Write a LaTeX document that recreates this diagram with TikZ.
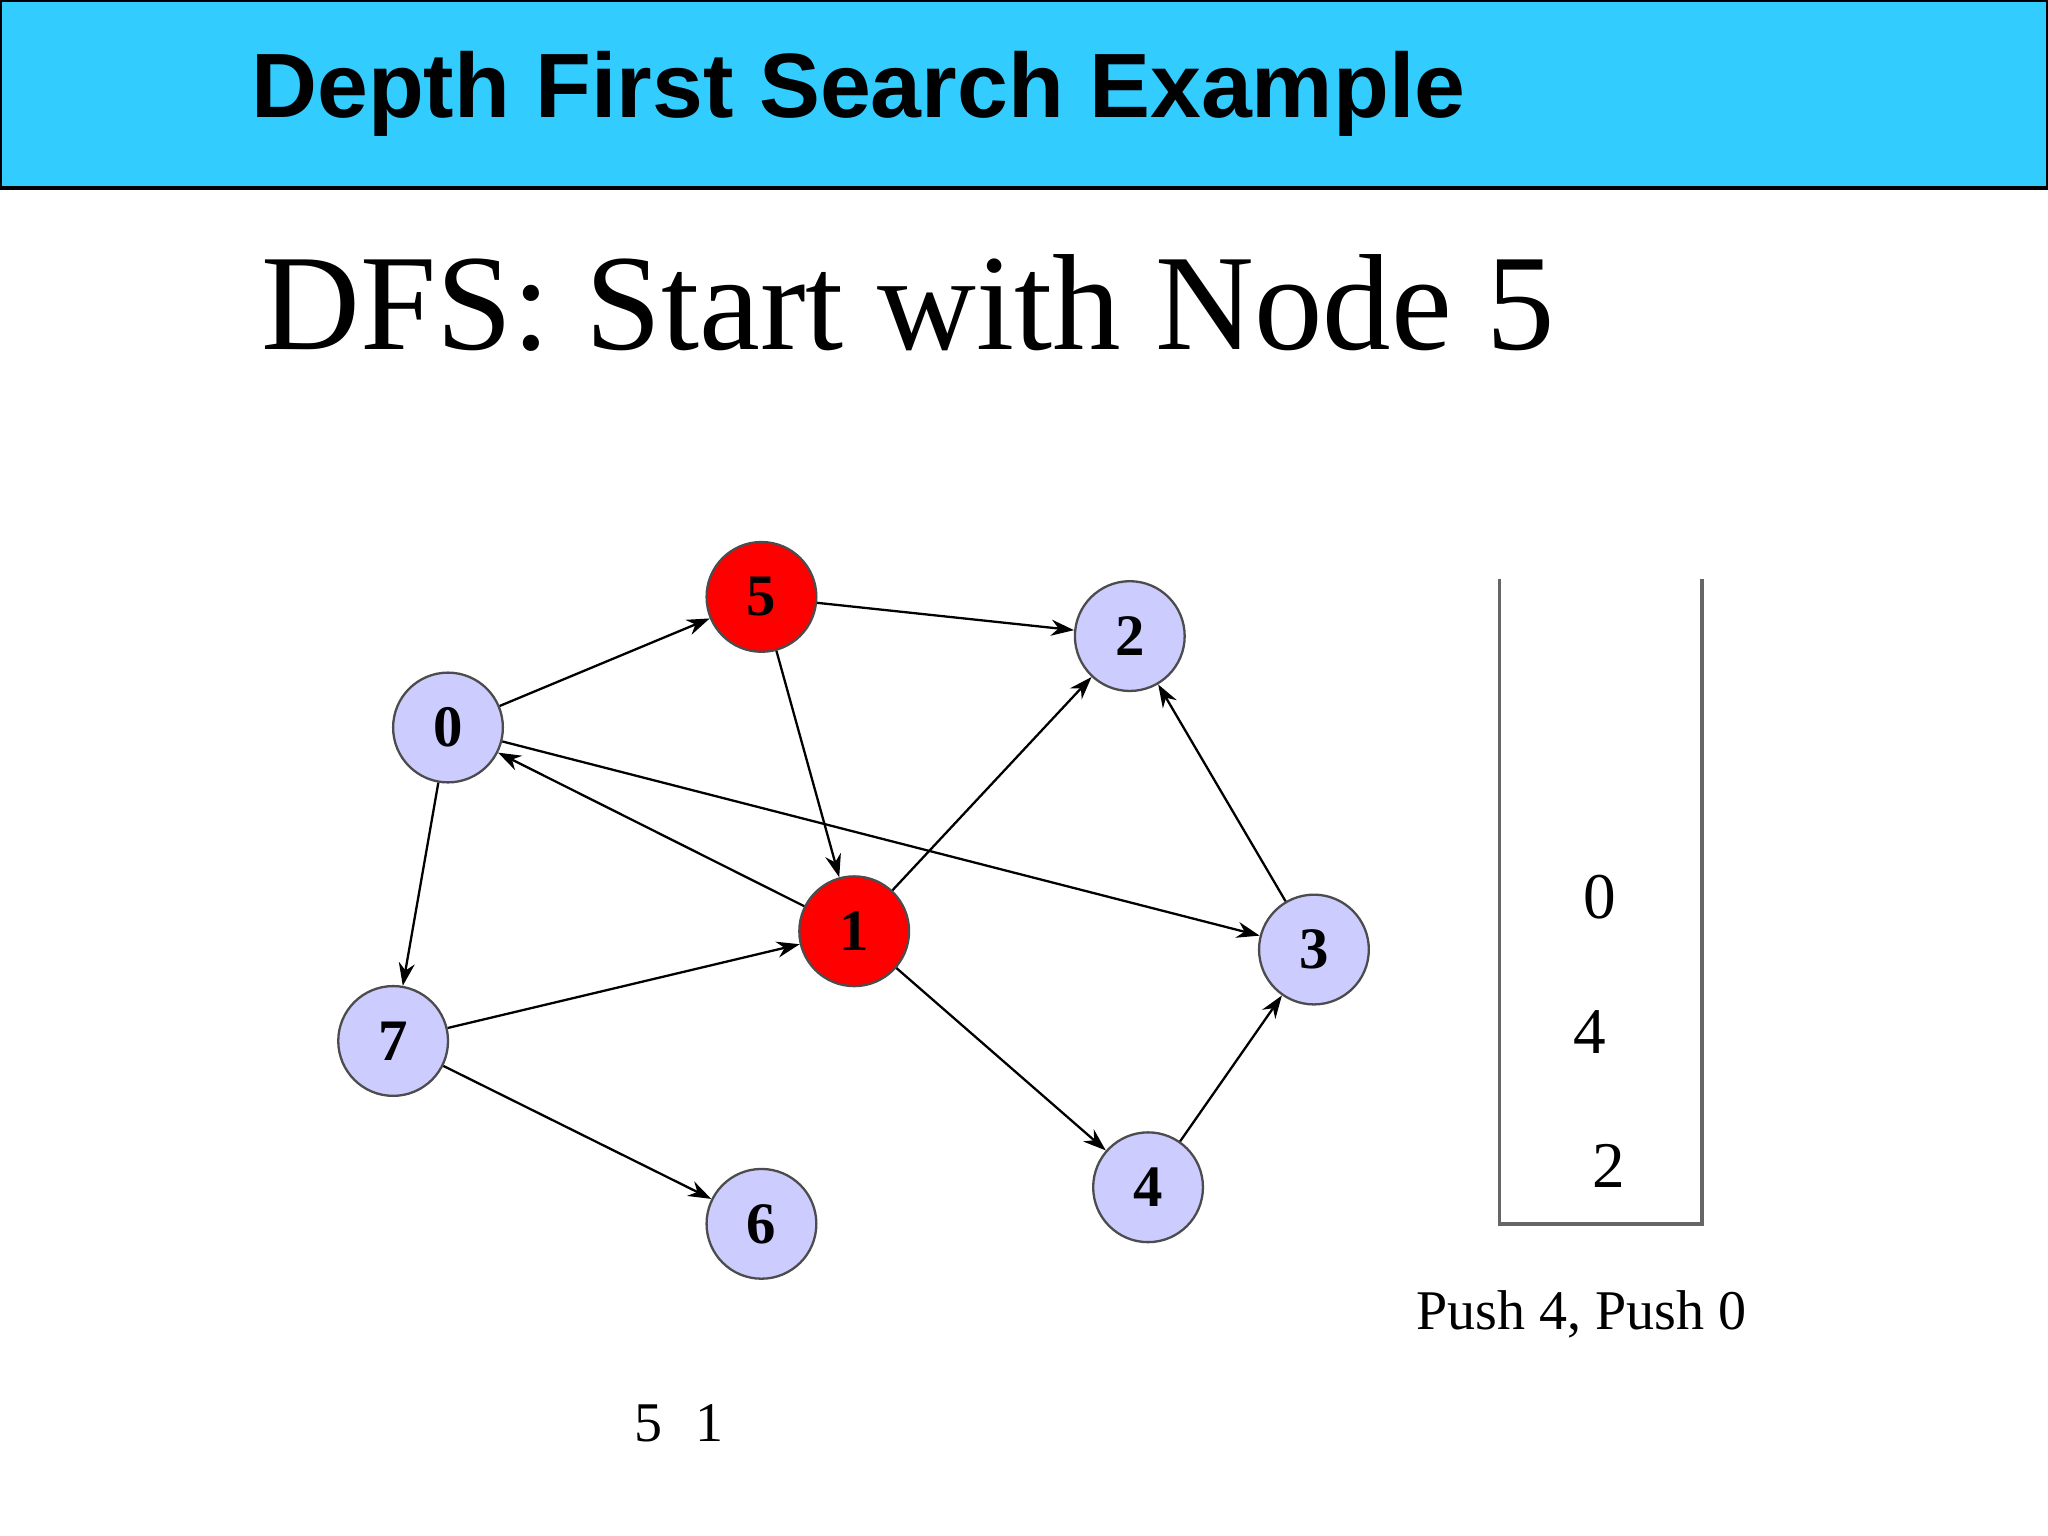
\documentclass[tikz,border=0pt]{standalone}
\usepackage{fontspec}
\setmainfont{Liberation Serif}
\newfontfamily\hdfont{Liberation Sans}
\usetikzlibrary{arrows.meta}
\definecolor{hdr}{HTML}{33CCFF}
\definecolor{nodeblue}{HTML}{CCCCFF}
\definecolor{nodered}{HTML}{FF0000}
\begin{document}
\begin{tikzpicture}[x=0.01cm,y=-0.01cm,
  gnode/.style={circle,draw=black!70,line width=0.5pt,minimum size=0.84cm,inner sep=0pt,fill=nodeblue,font=\fontsize{12.8}{14}\selectfont\bfseries},
  rnode/.style={gnode,fill=nodered},
  edge/.style={-{Stealth[length=5pt,width=3.5pt]},line width=0.5pt},
  stackline/.style={draw=black!60,line width=0.8pt}]
\useasboundingbox (0,0) rectangle (1568,1176);
\fill[white] (0,0) rectangle (1568,1176);
\draw[fill=hdr,line width=0.8pt] (0,0) rectangle (1568,144);
\node[anchor=west,font=\hdfont\bfseries\fontsize{19.9}{22}\selectfont] (title) at (180,72) {Depth First Search Example};
\node[anchor=west,font=\fontsize{29.8}{32}\selectfont] (sub) at (188,232) {DFS: Start with Node 5};
\node[rnode] (n5) at (583,457) {5};
\node[gnode] (n2) at (865,487) {2};
\node[gnode] (n0) at (343,557) {0};
\node[rnode] (n1) at (654,713) {1};
\node[gnode] (n3) at (1006,727) {3};
\node[gnode] (n7) at (301,797) {7};
\node[gnode] (n4) at (879,909) {4};
\node[gnode] (n6) at (583,937) {6};
\draw[edge] (n5) -- (n2);
\draw[edge] (n5) -- (n1);
\draw[edge] (n0) -- (n5);
\draw[edge] (n1) -- (n0);
\draw[edge] (n0) -- (n3);
\draw[edge] (n0) -- (n7);
\draw[edge] (n7) -- (n1);
\draw[edge] (n7) -- (n6);
\draw[edge] (n1) -- (n2);
\draw[edge] (n1) -- (n4);
\draw[edge] (n4) -- (n3);
\draw[edge] (n3) -- (n2);
\coordinate (s1) at (1148,443);
\coordinate (s2) at (1148,937);
\coordinate (s3) at (1303,937);
\coordinate (s4) at (1303,443);
\draw[stackline] (s1) -- (s2) -- (s3) -- (s4);
\node[font=\fontsize{14.2}{16}\selectfont] (k0) at (1225,687) {0};
\node[font=\fontsize{14.2}{16}\selectfont] (k4) at (1217,790) {4};
\node[font=\fontsize{14.2}{16}\selectfont] (k2) at (1232,893) {2};
\node[font=\fontsize{12.2}{14}\selectfont] (push) at (1211,1006) {Push 4, Push 0};
\node[font=\fontsize{12.2}{14}\selectfont] (vis) at (520,1090) {5\hspace{0.6em}1};
\end{tikzpicture}
\end{document}
